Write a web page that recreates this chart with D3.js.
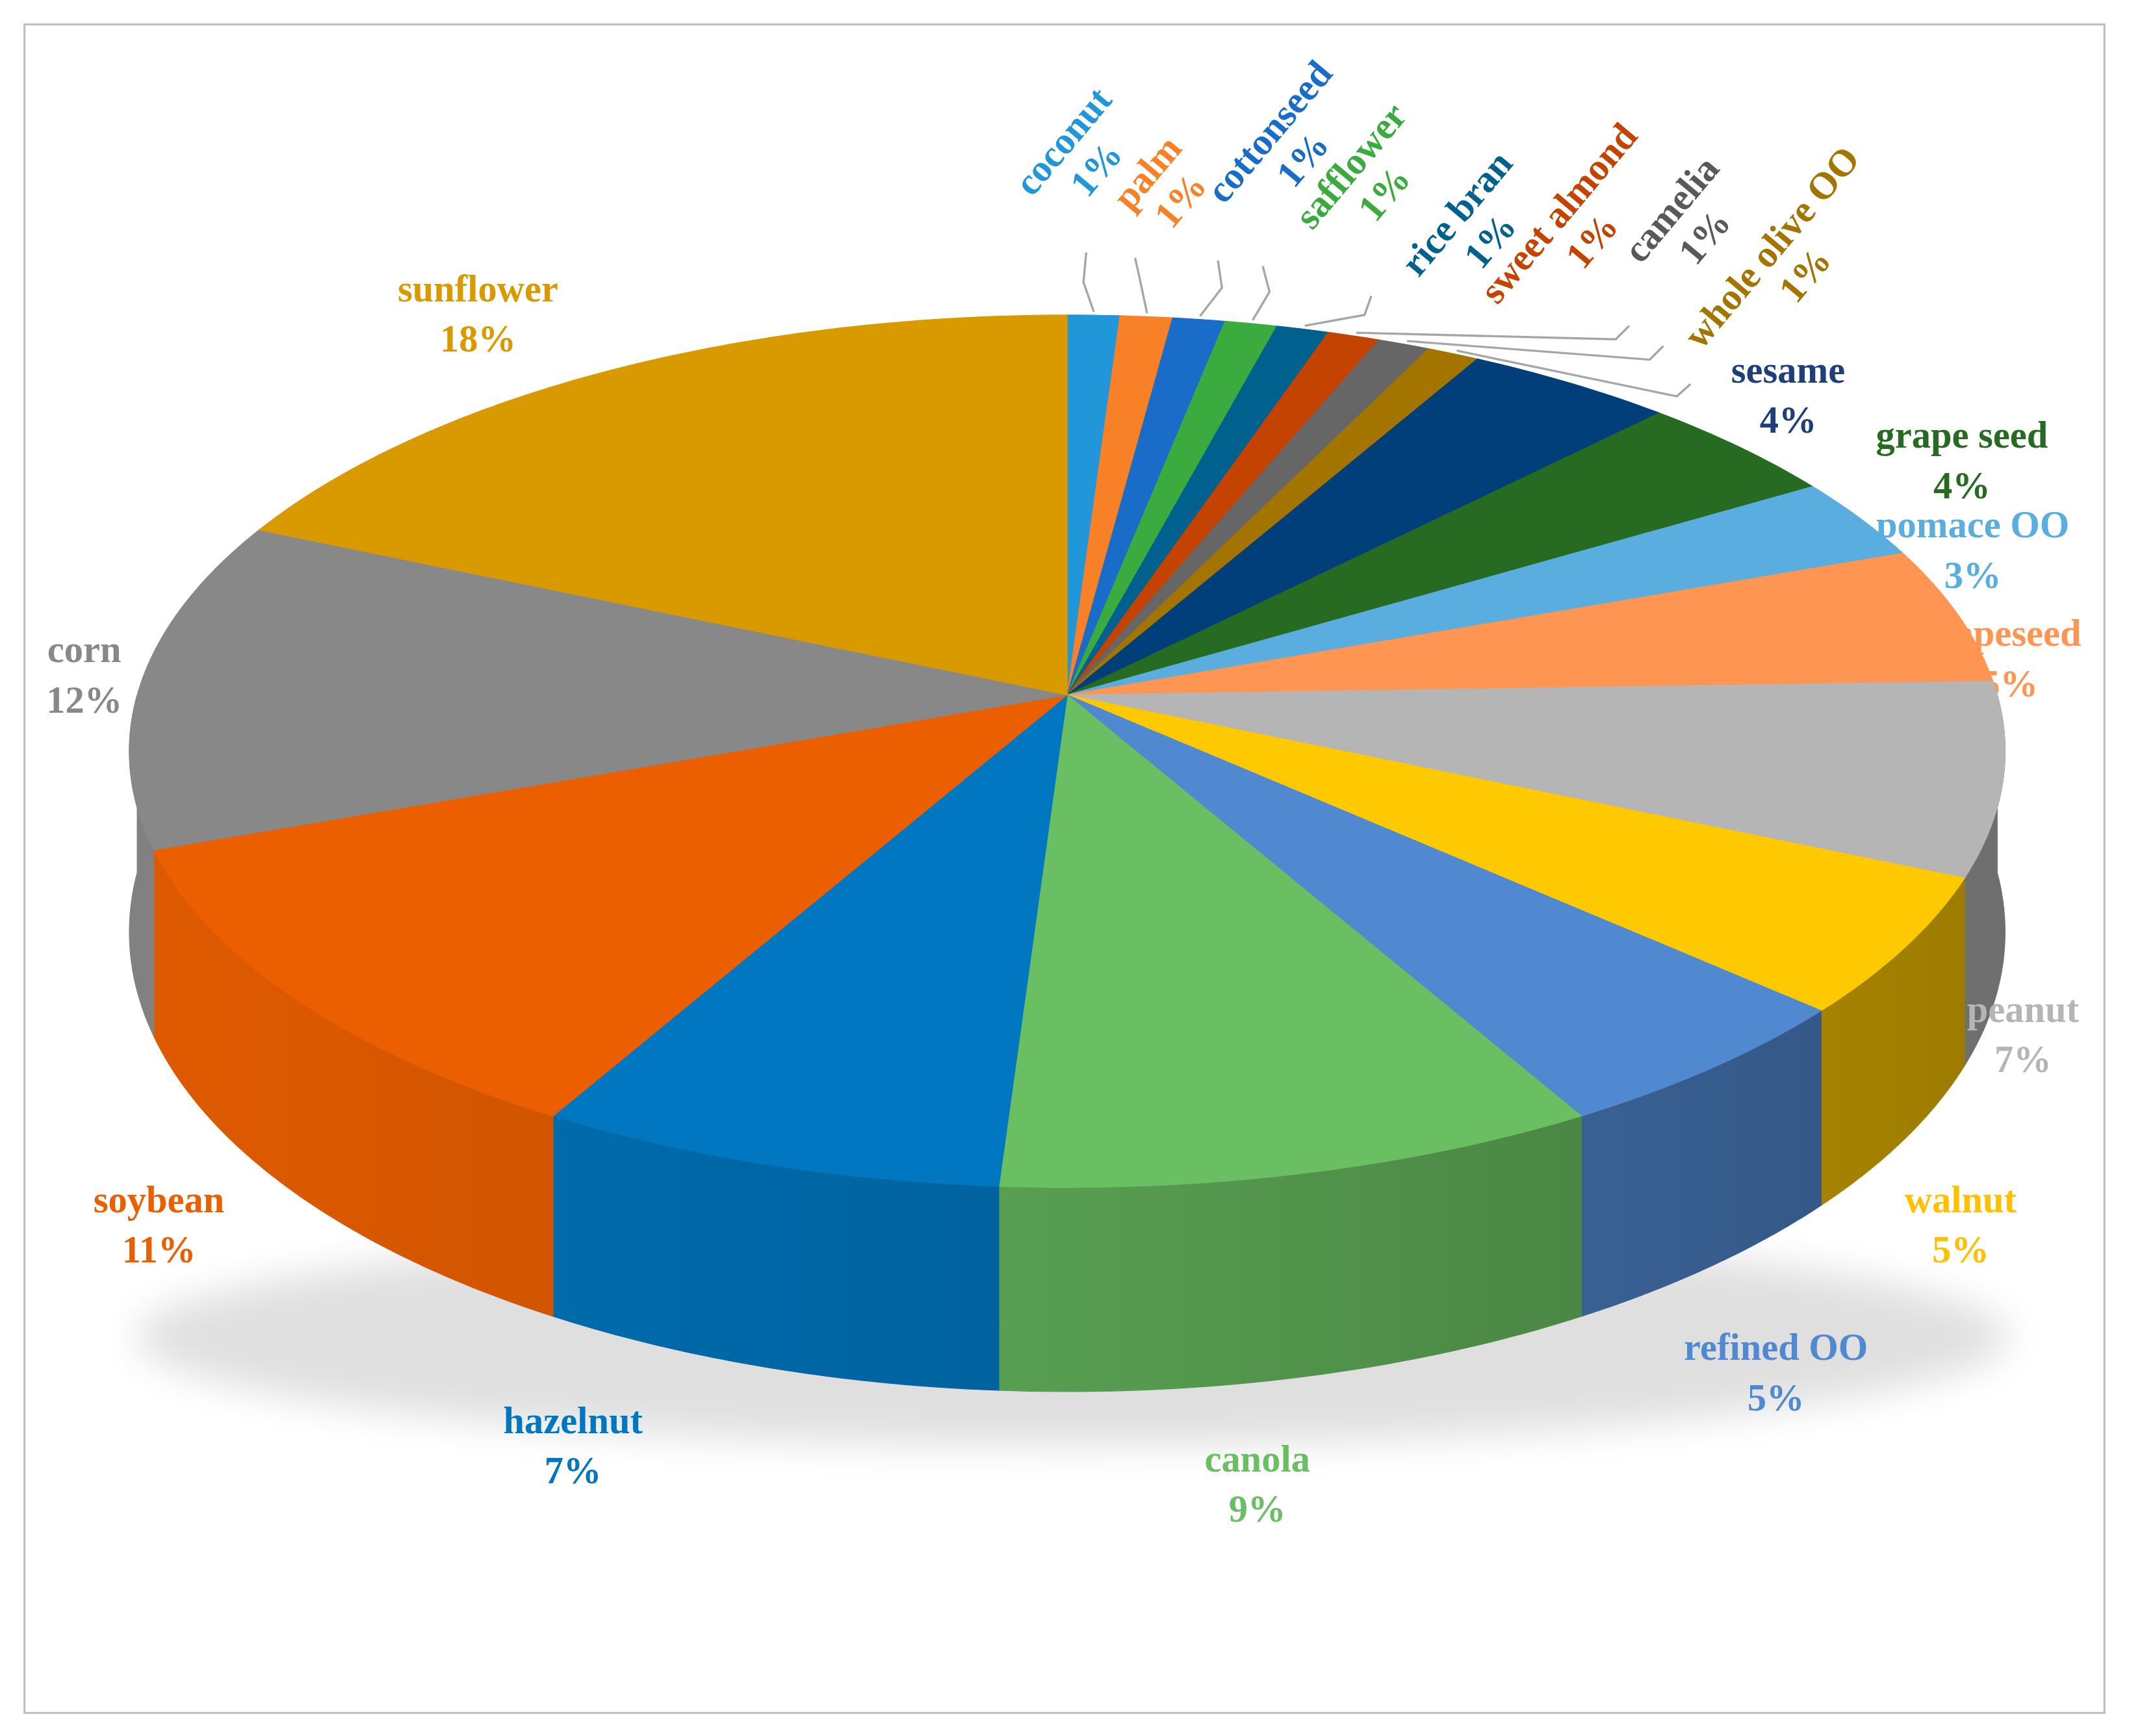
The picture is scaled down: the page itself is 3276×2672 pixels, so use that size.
<!DOCTYPE html>
<html><head><meta charset="utf-8">
<script src="https://d3js.org/d3.v7.min.js"></script>
<style>html,body{margin:0;background:#fff}</style></head>
<body><svg id="c"></svg>
<script>
const categories=["coconut","palm","cottonseed","safflower","rice bran","sweet almond","camelia","whole olive OO","sesame","grape seed","pomace OO","rapeseed","peanut","walnut","refined OO","canola","hazelnut","soybean","corn","sunflower"];
const values=[1,1,1,1,1,1,1,1,4,4,3,5,7,5,5,9,7,11,12,18];
const labelTexts=["1%","1%","1%","1%","1%","1%","1%","1%","4%","4%","3%","5%","7%","5%","5%","9%","7%","11%","12%","18%"];
const colors=["#2196d9","#f88027","#1a6cc9","#3bab3f","#00618f","#c44300","#666666","#a37400","#003f7a","#276a22","#5aaedf","#ff9552","#b5b5b5","#ffc900","#5189d1","#6abf62","#0077c0","#eb5f00","#888888","#d99a00"];
const labelColors=["#2196d9","#f88027","#1a6cc9","#3bab3f","#00618f","#c44300","#595959","#a37400","#1f3f7a","#276a22","#5aaedf","#ff9552","#b5b5b5","#ffc000","#5189d1","#6abf62","#0077c0","#eb5f00","#888888","#d99a00"];

// layout (display units, viewBox 1568 x 1279)
const W=1568,H=1279;
const cx=786,cy=512,R=685,RT=316,d=7.75,h=131;
const labelPos={ "sunflower":[352,222],"corn":[62,488],"soybean":[117,893],"hazelnut":[422,1056],"canola":[926,1084],
 "refined OO":[1308,1002],"walnut":[1444,893],"peanut":[1490,753],"rapeseed":[1480,476],"pomace OO":[1453,396],
 "grape seed":[1445,330],"sesame":[1317,282]};
const rotPos={"coconut":[790,110],"palm":[852,133],"cottonseed":[942,103],"safflower":[1002,128],"rice bran":[1080,163],
 "sweet almond":[1155,163],"camelia":[1238,160],"whole olive OO":[1312,188]};
const leaders={"coconut":[[798,208],[800,186]],"palm":[[840,208],[836,190]],"cottonseed":[[900,212],[897,192]],
 "safflower":[[935,215],[930,196]],"rice bran":[[1005,232],[1010,218]],"sweet almond":[[1190,250],[1200,240]],
 "camelia":[[1215,265],[1225,255]],"whole olive OO":[[1235,292],[1245,283]]};

const svg=d3.select("#c").attr("width",3276).attr("height",2672).attr("viewBox",`0 0 ${W} ${H}`);
const defs=svg.append("defs");
svg.append("rect").attr("x",18).attr("y",18).attr("width",1532).attr("height",1244).attr("fill","#fff").attr("stroke","#bfbfbf").attr("stroke-width",1.5);

function pt(a,r=1){const X=Math.sin(a)*r,Z=Math.cos(a)*r;const p=d/(d+Z);return [cx+R*X*p, cy-RT*Z*p, p];}
const pie=d3.pie().sort(null).value(v=>v).startAngle(0).endAngle(2*Math.PI);
const arcs=pie(values);
const line=d3.line();

const f=defs.append("filter").attr("id","blur").attr("x","-20%").attr("y","-50%").attr("width","140%").attr("height","200%");
f.append("feGaussianBlur").attr("stdDeviation",14);
svg.append("ellipse").attr("cx",790).attr("cy",985).attr("rx",690).attr("ry",80).attr("fill","#000").attr("opacity",0.12).attr("filter","url(#blur)");

const labelsBehind=svg.append("g");
const gSide=svg.append("g"), gTop=svg.append("g"), gLab=svg.append("g");
const font="'Liberation Serif','Times New Roman',serif";

arcs.forEach((a,i)=>{
  const c=d3.color(colors[i]);
  const gid="g"+i;
  const gr=defs.append("linearGradient").attr("id",gid).attr("gradientUnits","userSpaceOnUse").attr("x1",100).attr("x2",1475).attr("y1",0).attr("y2",0);
  gr.append("stop").attr("offset",0).attr("stop-color",c.darker(0.15));
  gr.append("stop").attr("offset",0.5).attr("stop-color",c.darker(0.55));
  gr.append("stop").attr("offset",1).attr("stop-color",c.darker(1.4));
  const s=Math.max(a.startAngle,Math.PI/2), e=Math.min(a.endAngle,3*Math.PI/2);
  if(e>s){
    const n=60, topPts=[], botPts=[];
    for(let k=0;k<=n;k++){const t=s+(e-s)*k/n;const q=pt(t);topPts.push([q[0],q[1]]);botPts.push([q[0],q[1]+h*q[2]]);}
    gSide.append("path").attr("d",line(topPts.concat(botPts.reverse()))+"Z").attr("fill",`url(#${gid})`).attr("stroke",`url(#${gid})`).attr("stroke-width",0.6);
  }
  const n=Math.max(4,Math.ceil((a.endAngle-a.startAngle)*60)),pts=[[cx,cy]];
  for(let k=0;k<=n;k++){const t=a.startAngle+(a.endAngle-a.startAngle)*k/n;const q=pt(t);pts.push([q[0],q[1]]);}
  gTop.append("path").attr("d",line(pts)+"Z").attr("fill",colors[i]).attr("stroke",colors[i]).attr("stroke-width",0.6);

  const name=categories[i], mid=(a.startAngle+a.endAngle)/2;
  if(labelPos[name]){
    const [x,y]=labelPos[name];
    const g=(name==="rapeseed"?labelsBehind:gLab).append("text").attr("x",x).attr("y",y).attr("text-anchor","middle")
      .attr("font-family",font).attr("font-weight","bold").attr("font-size",28).attr("fill",labelColors[i]);
    g.append("tspan").attr("x",x).text(name);
    g.append("tspan").attr("x",x).attr("dy",37).text(labelTexts[i]);
  } else if(rotPos[name]){
    const [x,y]=rotPos[name];
    const t=gLab.append("text").attr("transform",`translate(${x},${y}) rotate(-50)`).attr("text-anchor","middle")
      .attr("font-family",font).attr("font-weight","bold").attr("font-size",28).attr("fill",labelColors[i]);
    t.append("tspan").attr("x",0).attr("y",0).text(name);
    t.append("tspan").attr("x",0).attr("y",32).text(labelTexts[i]);
    const p0=pt(mid,1.01);
    const L=leaders[name];
    gLab.append("path").attr("d",line([[p0[0],p0[1]],L[0],L[1]])).attr("fill","none").attr("stroke","#a6a6a6").attr("stroke-width",1.6);
  }
});
</script></body></html>
